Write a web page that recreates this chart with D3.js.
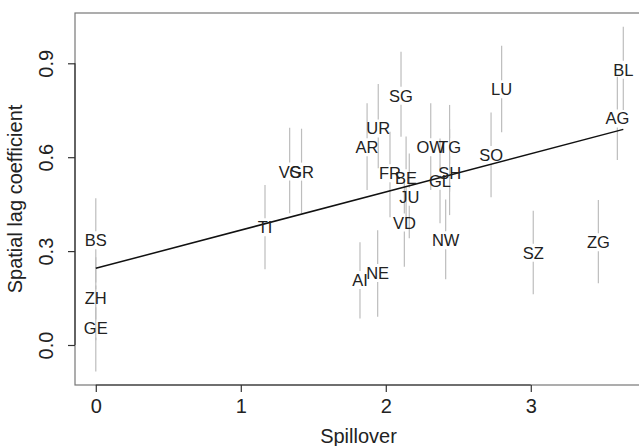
<!DOCTYPE html>
<html>
<head>
<meta charset="utf-8">
<script src="https://cdn.jsdelivr.net/npm/d3@7"></script>
<style>
  html, body { margin: 0; padding: 0; background: #fff; }
  svg { display: block; }
  text { font-family: "Liberation Sans", Arial, Helvetica, sans-serif; fill: #222; }
</style>
</head>
<body>
<svg id="chart" width="639" height="446"></svg>
<script>
// ---- data ----
const cantons   = ["AG","AI","AR","BE","BL","BS","FR","GE","GL","GR","JU","LU","NE",
                   "NW","OW","SG","SH","SO","SZ","TG","TI","UR","VD","VS","ZG","ZH"];
const spillover = [3.597,1.822,1.871,2.140,3.638,0.000,2.029,0.000,2.374,1.419,2.162,2.799,1.944,
                   2.413,2.310,2.105,2.440,2.726,3.017,2.440,1.167,1.948,2.128,1.337,3.466,0.000];
const coef      = [0.724,0.208,0.632,0.533,0.879,0.335,0.549,0.053,0.525,0.554,0.474,0.817,0.230,
                   0.335,0.632,0.796,0.549,0.607,0.295,0.632,0.376,0.692,0.391,0.554,0.328,0.149];
const ciLower   = [0.591,0.085,0.495,0.400,0.751,0.200,0.408,-0.085,0.389,0.421,0.341,0.680,0.090,
                   0.210,0.495,0.665,0.415,0.472,0.162,0.490,0.242,0.565,0.250,0.421,0.197,0.015];
const ciUpper   = [0.857,0.328,0.772,0.666,1.017,0.469,0.681,0.190,0.660,0.691,0.612,0.956,0.367,
                   0.465,0.772,0.937,0.690,0.743,0.429,0.767,0.511,0.834,0.530,0.694,0.463,0.280];
const xTicks = [0, 1, 2, 3];
const yTicks = [0.0, 0.3, 0.6, 0.9];
const fitIntercept = 0.245;
const fitSlope = 0.122;
const xTitle = "Spillover";
const yTitle = "Spatial lag coefficient";

// ---- layout ----
const plotL = 75, plotR = 642, plotT = 13, plotB = 385;
const x = d3.scaleLinear().domain([-0.1434, 3.767]).range([plotL, plotR]);
const y = d3.scaleLinear().domain([-0.1278, 1.0607]).range([plotB, plotT]);

const svg = d3.select("#chart");
const data = cantons.map((c, i) => ({c, x: spillover[i], y: coef[i], lo: ciLower[i], hi: ciUpper[i]}));

// confidence intervals (with gap around the label, as in plotCI)
const gap = 9;
const ci = svg.append("g").attr("stroke", "#bdbdbd").attr("stroke-width", 1.2);
data.forEach(d => {
  const px = x(d.x), py = y(d.y);
  ci.append("line").attr("x1", px).attr("x2", px).attr("y1", y(d.hi)).attr("y2", Math.max(y(d.hi), py - gap));
  ci.append("line").attr("x1", px).attr("x2", px).attr("y1", py + gap).attr("y2", Math.max(py + gap, y(d.lo)));
});

// regression line
const xMin = d3.min(spillover), xMax = d3.max(spillover);
svg.append("line")
  .attr("x1", x(xMin)).attr("y1", y(fitIntercept + fitSlope * xMin))
  .attr("x2", x(xMax)).attr("y2", y(fitIntercept + fitSlope * xMax))
  .attr("stroke", "#111").attr("stroke-width", 1.5);

// labels
svg.append("g").selectAll("text").data(data).join("text")
  .attr("x", d => x(d.x)).attr("y", d => y(d.y))
  .attr("dy", "0.36em")
  .attr("text-anchor", "middle")
  .attr("font-size", 16.5)
  .text(d => d.c);

// box
svg.append("rect")
  .attr("x", plotL).attr("y", plotT).attr("width", plotR - plotL).attr("height", plotB - plotT)
  .attr("fill", "none").attr("stroke", "#777").attr("stroke-width", 1.2);

// axes
const xAxis = svg.append("g").attr("transform", `translate(0,${plotB})`)
  .call(d3.axisBottom(x).tickValues(xTicks).tickFormat(d3.format("d")).tickSize(7).tickPadding(7));
const yAxis = svg.append("g").attr("transform", `translate(${plotL},0)`)
  .call(d3.axisLeft(y).tickValues(yTicks).tickFormat(d3.format(".1f")).tickSize(7).tickPadding(0));

[xAxis, yAxis].forEach(g => {
  g.select(".domain").attr("stroke", "#333").attr("stroke-width", 1.2);
  g.selectAll(".tick line").attr("stroke", "#333").attr("stroke-width", 1.2);
  g.selectAll(".tick text").attr("font-size", 20).attr("fill", "#222")
    .attr("font-family", "'Liberation Sans', Arial, sans-serif");
});
// domain only from first to last tick (as in R)
xAxis.select(".domain").attr("d", `M${x(xTicks[0])},0H${x(xTicks[xTicks.length-1])}`);
yAxis.select(".domain").attr("d", `M0,${y(yTicks[0])}V${y(yTicks[yTicks.length-1])}`);

// rotate y tick labels
yAxis.selectAll(".tick text")
  .attr("x", null)
  .attr("text-anchor", "middle")
  .attr("transform", "translate(-29,0) rotate(-90)")
  .attr("dy", "0.36em");

// titles
svg.append("text").attr("x", (plotL + plotR) / 2).attr("y", 443)
  .attr("text-anchor", "middle").attr("font-size", 20).text(xTitle);
svg.append("text").attr("transform", `translate(22,${(plotT + plotB) / 2}) rotate(-90)`)
  .attr("text-anchor", "middle").attr("font-size", 20).text(yTitle);
</script>
</body>
</html>
